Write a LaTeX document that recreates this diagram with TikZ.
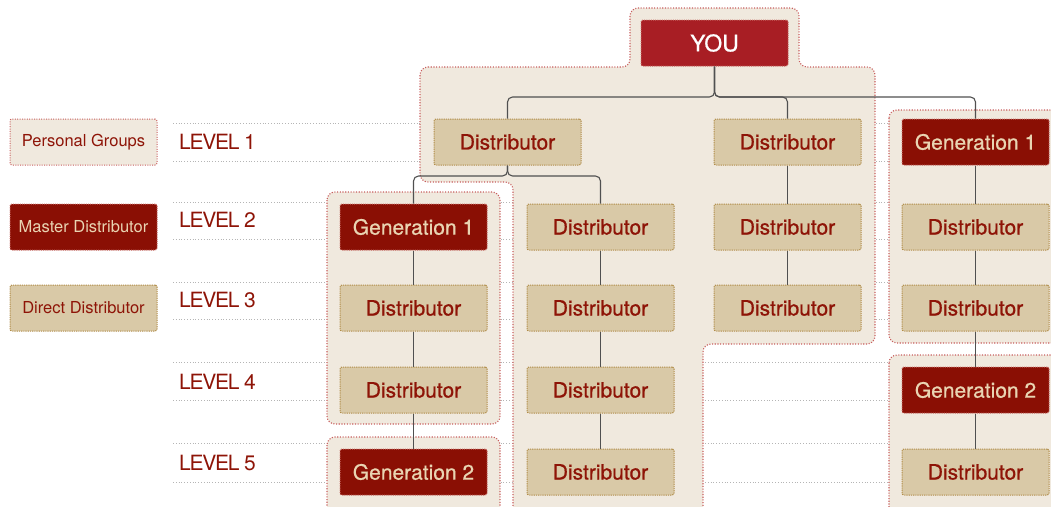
\documentclass[tikz,border=0pt]{standalone}
\usepackage{fontspec}
\setmainfont{TeX Gyre Heros}
\newfontfamily\levelfont{TeX Gyre Heros}[LetterSpace=-6]
\newfontfamily\boxfont{TeX Gyre Heros}[FakeBold=0.7]
\definecolor{grpfill}{HTML}{F0E9DE}
\definecolor{grpborder}{HTML}{C85E5E}
\definecolor{distfill}{HTML}{D9C9A7}
\definecolor{distborder}{HTML}{B08C48}
\definecolor{genfill}{HTML}{8A0F04}
\definecolor{genborder}{HTML}{C86A64}
\definecolor{gentext}{HTML}{E9D4B2}
\definecolor{youfill}{HTML}{A81E24}
\definecolor{txtred}{HTML}{8E1407}
\definecolor{guidegray}{HTML}{B5B5B5}
\definecolor{conncolor}{HTML}{505050}
\begin{document}
\begin{tikzpicture}[x=1pt,y=-1pt,
  boxbase/.style={rounded corners=2pt, minimum width=147pt, minimum height=46pt, inner sep=0pt, line width=1pt, font=\boxfont\fontsize{21}{21}\selectfont},
  distbox/.style={boxbase, draw=distborder, fill=distfill, text=txtred, dash pattern=on 1.2pt off 1pt},
  genbox/.style={boxbase, draw=genborder, fill=genfill, text=gentext, dash pattern=on 1pt off 1.2pt},
  youbox/.style={boxbase, draw=genborder, fill=youfill, text=white, dash pattern=on 1pt off 1.2pt, font=\boxfont\fontsize{23}{23}\selectfont},
  legpg/.style={boxbase, draw=grpborder, fill=grpfill, text=txtred, dash pattern=on 1pt off 1.4pt, font=\fontsize{16.5}{16.5}\selectfont},
  legmd/.style={genbox, font=\fontsize{16.5}{16.5}\selectfont},
  legdd/.style={distbox, font=\fontsize{16.5}{16.5}\selectfont},
  levellbl/.style={anchor=west, text=txtred, inner sep=0pt, font=\levelfont\fontsize{21}{21}\selectfont},
  group/.style={draw=grpborder, fill=grpfill, line width=1.1pt, dash pattern=on 1.1pt off 1.6pt, rounded corners=8pt},
  guide/.style={draw=guidegray, line width=1pt, dash pattern=on 1pt off 1.8pt},
  conn/.style={draw=conncolor, line width=1.1pt, rounded corners=5pt}
]
\useasboundingbox (0,0) rectangle (1051,506);
% guide lines
\foreach \y in {123,161,202,239,282,319,362,400,443,482}
  \draw[guide] (173,\y) -- (1051,\y);
% groups
\draw[group] (420,67) -- (630,67) -- (630,8) -- (799,8) -- (799,67) -- (875,67) -- (875,344)
  -- (703,344) -- (703,530) -- (513,530) -- (513,182) -- (420,182) -- cycle;
\draw[group] (327,192) rectangle (500,424);
\draw[group] (327,437) rectangle (500,530);
\draw[group] (889,110) rectangle (1070,343);
\draw[group] (889,355) rectangle (1070,530);
% legend
\node[legpg] (lpg) at (83.5,142) {Personal Groups};
\node[legmd] (lmd) at (83.5,227) {Master Distributor};
\node[legdd] (ldd) at (83.5,308) {Direct Distributor};
% level labels
\node[levellbl] (lv1) at (179,142) {LEVEL 1};
\node[levellbl] (lv2) at (179,220) {LEVEL 2};
\node[levellbl] (lv3) at (179,300) {LEVEL 3};
\node[levellbl] (lv4) at (179,382) {LEVEL 4};
\node[levellbl] (lv5) at (179,463) {LEVEL 5};
% boxes
\node[youbox] (you) at (714.5,43) {YOU};
\node[distbox] (d11) at (507.5,142) {Distributor};
\node[distbox] (d31) at (787.5,142) {Distributor};
\node[genbox] (g41) at (975.5,142) {Generation 1};
\node[genbox] (g12) at (413.5,227) {Generation 1};
\node[distbox] (d13) at (413.5,308) {Distributor};
\node[distbox] (d14) at (413.5,390) {Distributor};
\node[genbox] (g15) at (413.5,472) {Generation 2};
\node[distbox] (d22) at (600.5,227) {Distributor};
\node[distbox] (d23) at (600.5,308) {Distributor};
\node[distbox] (d24) at (600.5,390) {Distributor};
\node[distbox] (d25) at (600.5,472) {Distributor};
\node[distbox] (d32) at (787.5,227) {Distributor};
\node[distbox] (d33) at (787.5,308) {Distributor};
\node[distbox] (d42) at (975.5,227) {Distributor};
\node[distbox] (d43) at (975.5,308) {Distributor};
\node[genbox] (g44) at (975.5,390) {Generation 2};
\node[distbox] (d45) at (975.5,472) {Distributor};
% connectors
\coordinate (b0) at (714.5,97);
\coordinate (b1) at (507.5,176);
\draw[conn] (you.south) -- (b0) -| (d11.north);
\draw[conn] (you.south) -- (b0) -| (d31.north);
\draw[conn] (you.south) -- (b0) -| (g41.north);
\draw[conn] (d11.south) -- (b1) -| (g12.north);
\draw[conn] (d11.south) -- (b1) -| (d22.north);
\draw[conn] (g12) -- (d13);
\draw[conn] (d13) -- (d14);
\draw[conn] (d14) -- (g15);
\draw[conn] (d22) -- (d23);
\draw[conn] (d23) -- (d24);
\draw[conn] (d24) -- (d25);
\draw[conn] (d31) -- (d32);
\draw[conn] (d32) -- (d33);
\draw[conn] (g41) -- (d42);
\draw[conn] (d42) -- (d43);
\draw[conn] (d43) -- (g44);
\draw[conn] (g44) -- (d45);
\end{tikzpicture}
\end{document}
